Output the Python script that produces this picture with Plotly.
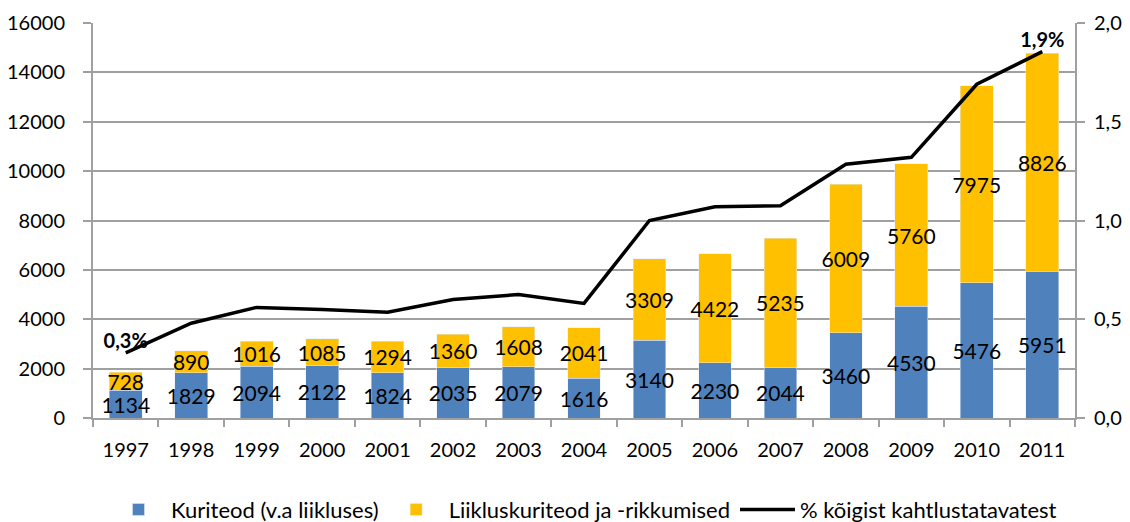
import plotly.graph_objects as go

# data
aastad = ["1997", "1998", "1999", "2000", "2001", "2002", "2003", "2004",
          "2005", "2006", "2007", "2008", "2009", "2010", "2011"]
kuriteod = [1134, 1829, 2094, 2122, 1824, 2035, 2079, 1616,
            3140, 2230, 2044, 3460, 4530, 5476, 5951]
liiklus = [728, 890, 1016, 1085, 1294, 1360, 1608, 2041,
           3309, 4422, 5235, 6009, 5760, 7975, 8826]
protsent = [0.33, 0.48, 0.56, 0.55, 0.535, 0.60, 0.625, 0.58,
            1.0, 1.07, 1.075, 1.285, 1.32, 1.69, 1.855]
protsent_sildid = ["0,3%", "", "", "", "", "", "", "",
                   "", "", "", "", "", "", "1,9%"]

FONT = "Lato"
GRID = "#a0a0a0"

fig = go.Figure()

# bars (stacked)
for vals, nimi, varv in [(kuriteod, "Kuriteod (v.a liikluses)", "#4F81BD"),
                         (liiklus, "Liikluskuriteod ja -rikkumised", "#FFC000")]:
    fig.add_trace(go.Bar(x=aastad, y=vals, name=nimi,
                         marker=dict(color=varv),
                         text=vals, textposition="inside", textangle=0,
                         insidetextanchor="middle", constraintext="none",
                         textfont=dict(family=FONT, size=21, color="black"),
                         width=0.5))

# share line on right axis
fig.add_trace(go.Scatter(x=aastad, y=protsent, name="% kõigist kahtlustatavatest",
                         mode="lines+text", yaxis="y2",
                         line=dict(color="black", width=3.5),
                         text=protsent_sildid, textposition="top center",
                         textfont=dict(family=FONT, size=20, color="black",
                                       weight="bold"),
                         cliponaxis=False))

# page body has an 8px margin, so figure is shrunk and margins shifted
fig.update_layout(
    width=1114, height=514,
    barmode="stack",
    plot_bgcolor="white", paper_bgcolor="white",
    font=dict(family=FONT, size=20, color="black"),
    margin=dict(l=85, r=47, t=15, b=104, autoexpand=False),
    xaxis=dict(type="category", range=[-0.5, 14.5],
               showline=True, linecolor=GRID, linewidth=2,
               ticks="outside", tickson="boundaries", ticklen=7,
               tickcolor=GRID, tickwidth=2, ticklabelstandoff=13,
               tickfont=dict(size=20)),
    yaxis=dict(range=[0, 16000], tickvals=list(range(0, 16001, 2000)),
               tickformat="d", showgrid=True, gridcolor=GRID, gridwidth=2,
               showline=True, linecolor=GRID, linewidth=2,
               ticks="outside", ticklen=8, tickcolor=GRID, tickwidth=2,
               ticklabelstandoff=14, zeroline=False, tickfont=dict(size=20)),
    yaxis2=dict(range=[0, 2], tickvals=[0, 0.5, 1, 1.5, 2], tickformat=".1f",
                overlaying="y", side="right", showgrid=False,
                showline=True, linecolor=GRID, linewidth=2,
                ticks="outside", ticklen=8, tickcolor=GRID, tickwidth=2,
                ticklabelstandoff=5, zeroline=False, tickfont=dict(size=20)),
    separators=", ",
    showlegend=True,
    legend=dict(orientation="h", x=0.5, xanchor="center", y=0.024,
                yref="container", yanchor="middle", traceorder="normal",
                font=dict(size=22), itemwidth=55),
)

fig.write_html("out.html")
